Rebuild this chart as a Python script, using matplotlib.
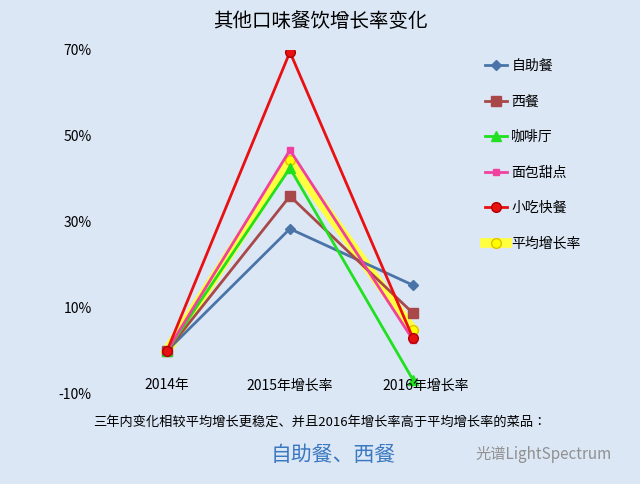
import matplotlib.pyplot as plt
from matplotlib import font_manager

cjk = sorted({f.name for f in font_manager.fontManager.ttflist if 'CJK SC' in f.name})
plt.rcParams['font.family'] = 'sans-serif'
plt.rcParams['font.sans-serif'] = cjk + ['Noto Sans CJK JP', 'DejaVu Sans']

categories = ['2014年', '2015年增长率', '2016年增长率']
names = ['自助餐', '西餐', '咖啡厅', '面包甜点', '小吃快餐', '平均增长率']
v_buffet = [0, 28.4, 15.3]
v_western = [0, 36.0, 8.8]
v_cafe = [0, 42.5, -6.7]
v_bakery = [0, 46.7, 2.6]
v_snack = [0, 69.5, 3.0]
v_avg = [0, 44.4, 4.9]
yticks = [-10, 10, 30, 50, 70]

bg = '#dce7f6'
fig = plt.figure(figsize=(6.4, 4.84), dpi=100, facecolor=bg)
ax = fig.add_axes([0.156, 0.186, 0.594, 0.711], facecolor=bg)
x = range(len(categories))

ax.plot(x, v_avg, color='#ffff40', lw=7, marker='o', ms=7, mfc='#ffff00', mec='#e0c000', label=names[5], zorder=2, solid_joinstyle='round')
ax.plot(x, v_buffet, color='#4a74a8', lw=2, marker='D', ms=5, label=names[0], zorder=3)
ax.plot(x, v_western, color='#a84848', lw=2, marker='s', ms=7, label=names[1], zorder=3)
ax.plot(x, v_cafe, color='#20e020', lw=2, marker='^', ms=7, label=names[2], zorder=3)
ax.plot(x, v_bakery, color='#f040a0', lw=2, marker='s', ms=5, label=names[3], zorder=3)
ax.plot(x, v_snack, color='#e81010', lw=2, marker='o', ms=7, mec='#b00000', label=names[4], zorder=4)

ax.set_xlim(-0.545, 2.545)
ax.set_ylim(-10, 70)
ax.set_yticks(yticks)
ax.set_yticklabels(['%d%%' % t for t in yticks], fontsize=10)
ax.set_xticks([])
ax.tick_params(axis='y', length=0, pad=6)
for s in ax.spines.values():
    s.set_visible(False)
for i, c in enumerate(categories):
    ax.text(i + (0.1 if i == 2 else 0), -8, c, ha='center', va='center', fontsize=10)

h, l = ax.get_legend_handles_labels()
order = [1, 2, 3, 4, 5, 0]
ax.legend([h[i] for i in order], [l[i] for i in order], loc='upper left',
          bbox_to_anchor=(0.98, 1.01), frameon=False, fontsize=10, labelspacing=1.55,
          handlelength=1.6, handletextpad=0.3)

fig.text(0.5, 0.955, '其他口味餐饮增长率变化', ha='center', va='center', fontsize=14)
fig.text(0.5, 0.128, '三年内变化相较平均增长更稳定、并且2016年增长率高于平均增长率的菜品：',
         ha='center', va='center', fontsize=9.5)
fig.text(0.52, 0.06, '自助餐、西餐', ha='center', va='center', fontsize=15, color='#3a78c0')
fig.text(0.85, 0.06, '光谱LightSpectrum', ha='center', va='center', fontsize=11, color='#909090')

fig.savefig('out.png', facecolor=bg)
